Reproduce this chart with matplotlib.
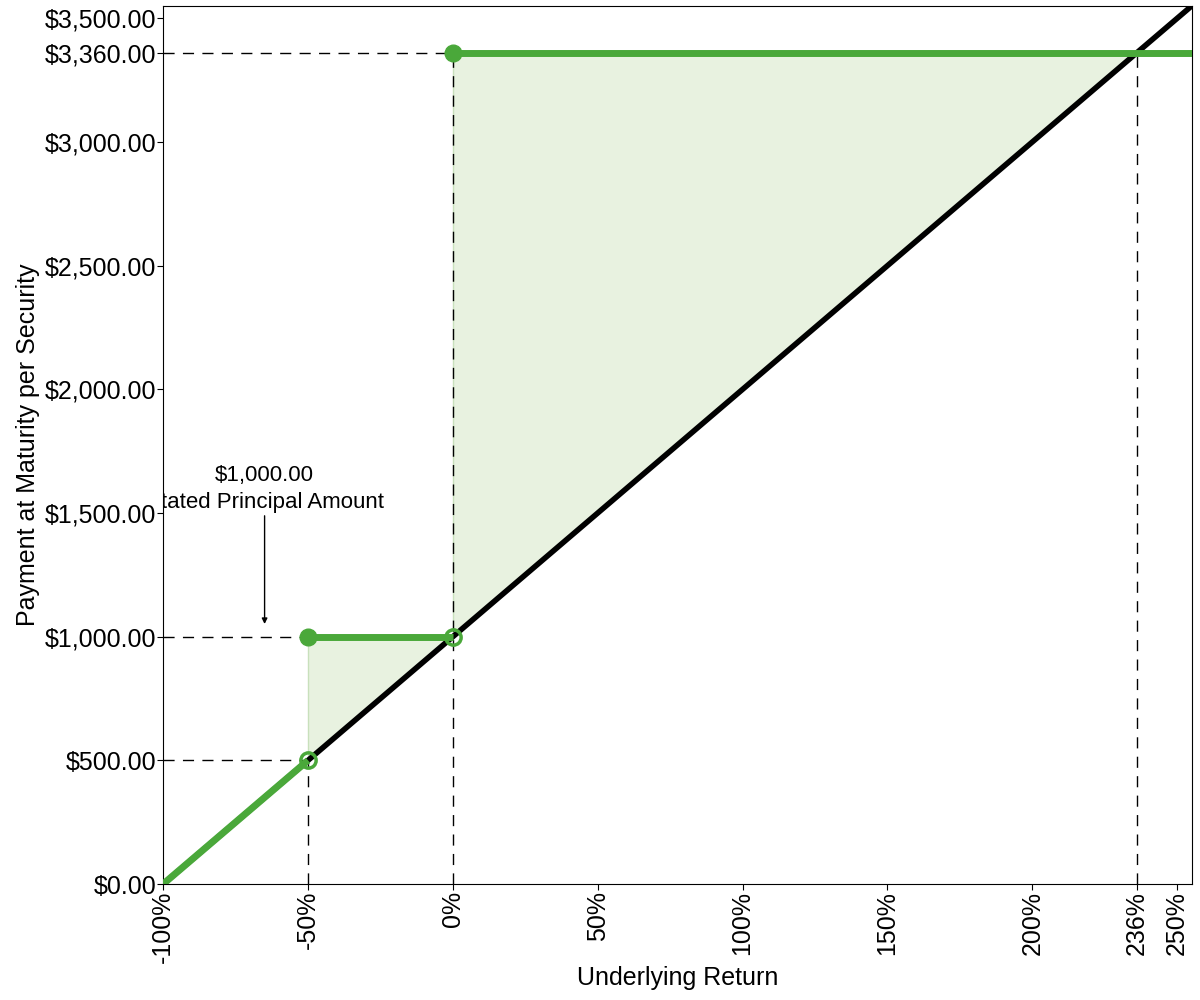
import matplotlib
matplotlib.use('Agg')
import matplotlib.pyplot as plt

plt.rcParams['font.family'] = ['Liberation Sans', 'DejaVu Sans']

# payoff data (underlying return in %, payment in $)
underlying_x = [-100, 255]
underlying_y = [0, 3550]
seg1_x = [-100, -50]
seg1_y = [0, 500]
seg2_x = [-50, 0]
seg2_y = [1000, 1000]
seg3_x = [0, 255]
seg3_y = [3360, 3360]
filled_pts = [(-50, 1000), (0, 3360)]
open_pts = [(-50, 500), (0, 1000)]
breakeven = 236
xticks = [-100, -50, 0, 50, 100, 150, 200, 236, 250]
yticks = [0, 500, 1000, 1500, 2000, 2500, 3000, 3360, 3500]

green = '#4aa83a'
fill_col = '#e8f2e0'

fig = plt.figure(figsize=(12, 10), dpi=100)
ax = fig.add_axes([0.136, 0.116, 0.857, 0.878])

# shaded area between the security payoff and the underlying
ax.fill_between([-50, 0], [1000, 1000], [500, 1000], color=fill_col, lw=0)
ax.fill_between([0, breakeven], [3360, 3360], [1000, 3360], color=fill_col, lw=0)
ax.plot([-50, -50], [500, 1000], color='#c8e0bc', lw=1)
ax.plot([0, 0], [1000, 3360], color='#c8e0bc', lw=1)

# dashed guides
dash = dict(color='black', lw=1, ls=(0, (8, 6)))
ax.plot([-100, -50], [500, 500], **dash)
ax.plot([-100, -50], [1000, 1000], **dash)
ax.plot([-100, 0], [3360, 3360], **dash)
ax.plot([-50, -50], [0, 500], **dash)
ax.plot([0, 0], [0, 3360], **dash)
ax.plot([breakeven, breakeven], [0, 3360], **dash)

ax.plot(underlying_x, underlying_y, color='black', lw=4, zorder=4)
for sx, sy in [(seg1_x, seg1_y), (seg2_x, seg2_y), (seg3_x, seg3_y)]:
    ax.plot(sx, sy, color=green, lw=5, solid_capstyle='butt', zorder=5)
for px, py in filled_pts:
    ax.plot(px, py, 'o', color=green, ms=12, zorder=6)
for px, py in open_pts:
    ax.plot(px, py, 'o', mfc='none', mec=green, mew=2.5, ms=11, zorder=6)

ax.annotate('', xy=(-65, 1040), xytext=(-65, 1500),
            arrowprops=dict(arrowstyle='-|>', color='black', lw=1, mutation_scale=8))
ax.text(-65, 1500, '$1,000.00\nStated Principal Amount', ha='center', va='bottom',
        fontsize=16, linespacing=1.35, clip_on=True)

ax.set_xlim(-100, 255)
ax.set_ylim(0, 3550)
ax.set_xticks(xticks)
ax.set_xticklabels([f'{t}%' for t in xticks], rotation=90, fontsize=18)
ax.set_yticks(yticks)
ax.set_yticklabels([f'${t:,.2f}' for t in yticks], fontsize=18)
ax.tick_params(length=4, pad=1)
ax.set_xlabel('Underlying Return', fontsize=18, va='center')
ax.set_ylabel('Payment at Maturity per Security', fontsize=18, va='center')
ax.xaxis.set_label_coords(0.5, -0.107)
ax.yaxis.set_label_coords(-0.131, 0.5)

fig.savefig('out.png', dpi=100)
